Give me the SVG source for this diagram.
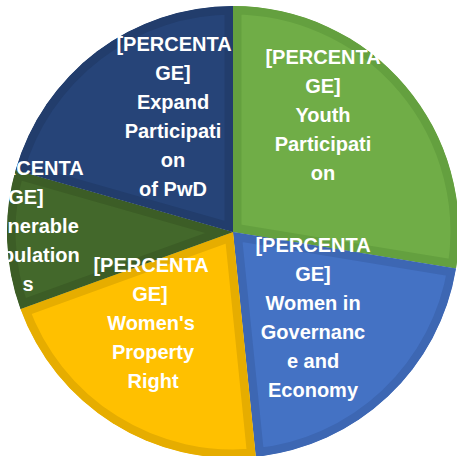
<svg xmlns="http://www.w3.org/2000/svg" xmlns:xlink="http://www.w3.org/1999/xlink" width="457" height="456" viewBox="0 0 457 456">
<style>
.lbl{font-family:"Liberation Sans",Arial,sans-serif;font-weight:bold;font-size:20px;fill:#ffffff;text-anchor:middle}
.sl{stroke-width:17;stroke-linejoin:miter}
.green{fill:#70AD47;stroke:#64A03F}
.blue{fill:#4472C4;stroke:#3D67B3}
.yellow{fill:#FFC000;stroke:#E6AD00}
.dkgreen{fill:#43682B;stroke:#3C5D26}
.dkblue{fill:#264478;stroke:#223D6C}
</style>
<defs>
<path id="p-green" d="M233,232 L233,6 A226,226 0 0 1 456,268.5 Z"/>
<path id="p-blue" d="M233,232 L456,268.5 A226,226 0 0 1 255.8,456.8 Z"/>
<path id="p-yellow" d="M233,232 L255.8,456.8 A226,226 0 0 1 20.5,308.9 Z"/>
<path id="p-dkgreen" d="M233,232 L20.5,308.9 A226,226 0 0 1 15.6,170.1 Z"/>
<path id="p-dkblue" d="M233,232 L15.6,170.1 A226,226 0 0 1 233,6 Z"/>
<clipPath id="c-green"><use xlink:href="#p-green"/></clipPath>
<clipPath id="c-blue"><use xlink:href="#p-blue"/></clipPath>
<clipPath id="c-yellow"><use xlink:href="#p-yellow"/></clipPath>
<clipPath id="c-dkgreen"><use xlink:href="#p-dkgreen"/></clipPath>
<clipPath id="c-dkblue"><use xlink:href="#p-dkblue"/></clipPath>
</defs>
<rect width="457" height="456" fill="#ffffff"/>
<g id="slices">
<g id="youth"><use xlink:href="#p-green" class="sl green" clip-path="url(#c-green)"/></g>
<g id="women-governance"><use xlink:href="#p-blue" class="sl blue" clip-path="url(#c-blue)"/></g>
<g id="women-property"><use xlink:href="#p-yellow" class="sl yellow" clip-path="url(#c-yellow)"/></g>
<g id="vulnerable"><use xlink:href="#p-dkgreen" class="sl dkgreen" clip-path="url(#c-dkgreen)"/></g>
<g id="pwd"><use xlink:href="#p-dkblue" class="sl dkblue" clip-path="url(#c-dkblue)"/></g>
</g>
<g id="labels">
<g id="youth-label"><text class="lbl"><tspan x="323" y="64">[PERCENTA</tspan><tspan x="323" y="93">GE]</tspan><tspan x="323" y="122">Youth</tspan><tspan x="323" y="151">Participati</tspan><tspan x="323" y="180">on</tspan></text></g>
<g id="women-governance-label"><text class="lbl"><tspan x="313" y="252">[PERCENTA</tspan><tspan x="313" y="281">GE]</tspan><tspan x="313" y="310">Women in</tspan><tspan x="313" y="339">Governanc</tspan><tspan x="313" y="368">e and</tspan><tspan x="313" y="397">Economy</tspan></text></g>
<g id="women-property-label"><text class="lbl"><tspan x="151" y="272">[PERCENTA</tspan><tspan x="150" y="301">GE]</tspan><tspan x="151" y="330">Women's</tspan><tspan x="153" y="359">Property</tspan><tspan x="153" y="388">Right</tspan></text></g>
<g id="vulnerable-label"><text class="lbl"><tspan x="26" y="175">[PERCENTA</tspan><tspan x="26" y="204">GE]</tspan><tspan x="28" y="233">Vulnerable</tspan><tspan x="28" y="262">Population</tspan><tspan x="28" y="291">s</tspan></text></g>
<g id="pwd-label"><text class="lbl"><tspan x="174" y="51">[PERCENTA</tspan><tspan x="173" y="80">GE]</tspan><tspan x="173" y="109">Expand</tspan><tspan x="173" y="138">Participati</tspan><tspan x="173" y="167">on</tspan><tspan x="173" y="196">of PwD</tspan></text></g>
</g>
<g id="connectors"/>
</svg>
